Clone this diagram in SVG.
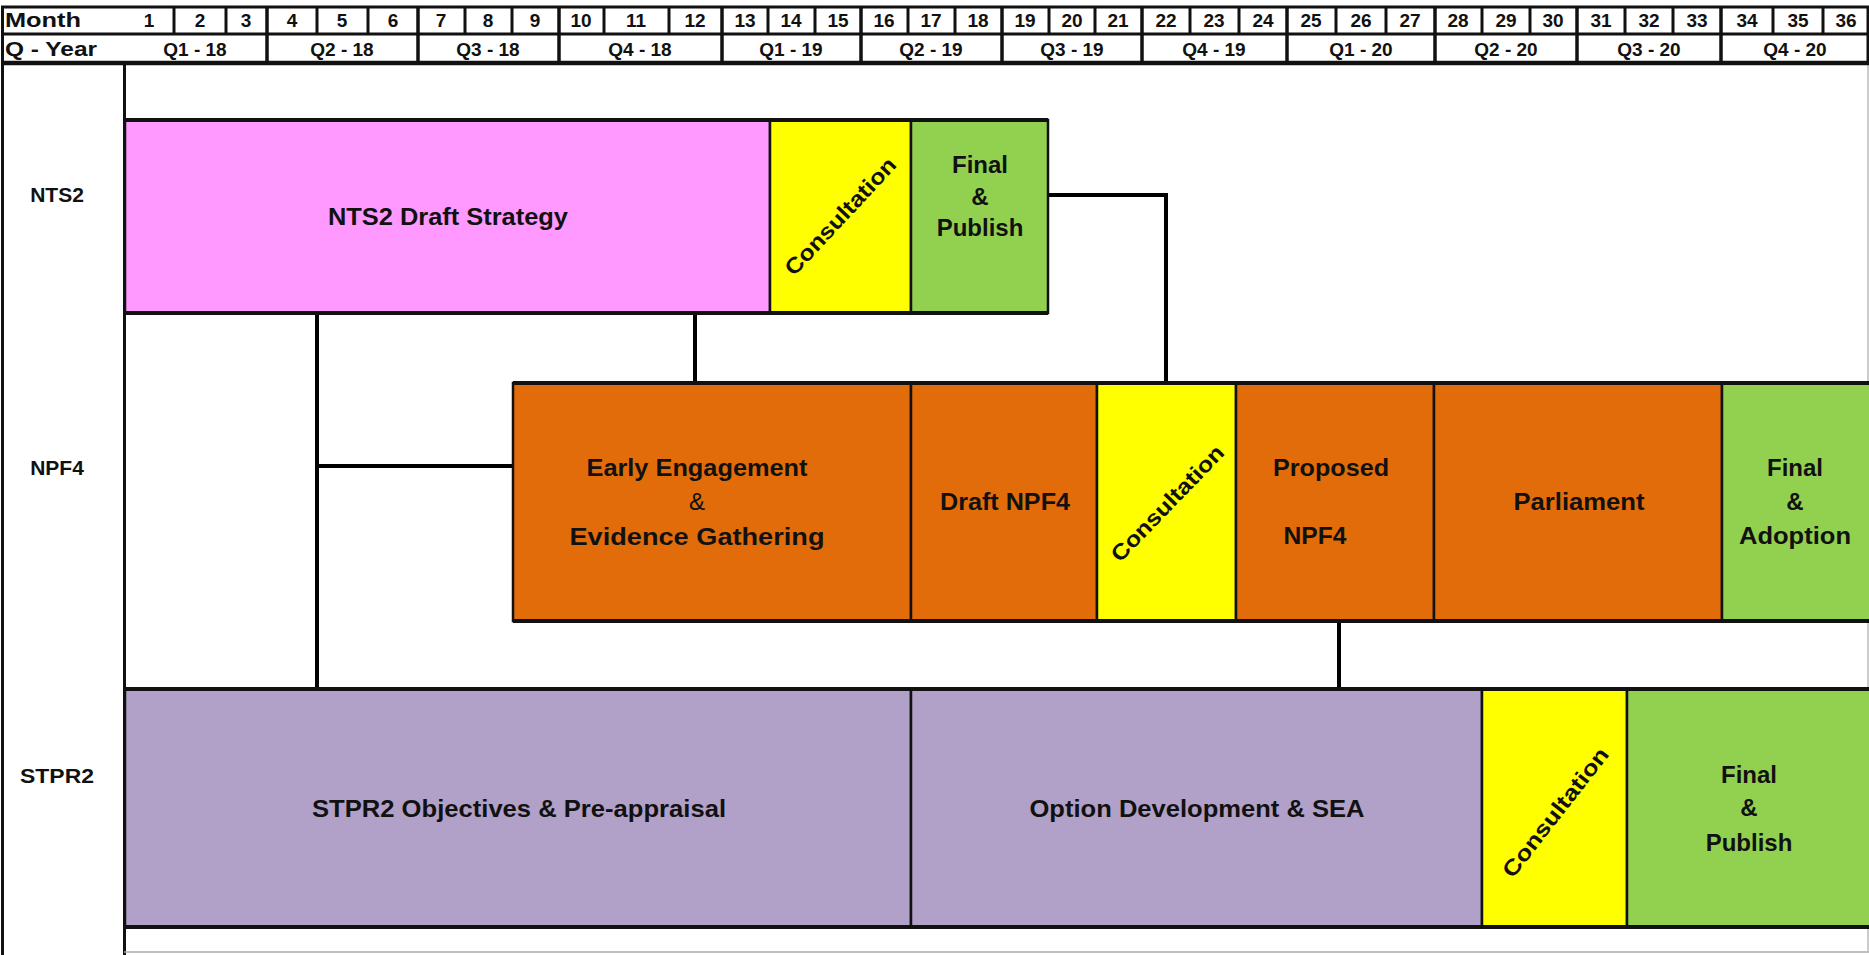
<svg xmlns="http://www.w3.org/2000/svg" width="1869" height="955" viewBox="0 0 1869 955">
<defs>
<style>
text{font-family:"Liberation Sans",Arial,sans-serif;font-weight:bold;fill:#111;}
.hd{font-size:19px;text-anchor:middle;}
.hl{font-size:20px;text-anchor:start;}
.rl{font-size:21px;text-anchor:middle;}
.bl{font-size:24px;text-anchor:middle;}
.cons{font-size:22px;text-anchor:middle;}
.reg{font-weight:normal;}
.seg{stroke:#111;stroke-width:2.5;}
.edge{stroke:#111;stroke-width:4;fill:none;}
.ms{stroke:#111;stroke-width:3;}
.qs{stroke:#111;stroke-width:3.5;}
.conn{stroke:#000;stroke-width:4;fill:none;stroke-linecap:square;}
.pink{fill:#FF99FF;}
.yel{fill:#FFFF00;}
.grn{fill:#92D050;}
.org{fill:#E36C0A;}
.pur{fill:#B1A0C7;}
</style>
</defs>
<rect x="0" y="0" width="1869" height="955" fill="#fff"/>

<g id="frame">
<line x1="2.5" y1="7" x2="2.5" y2="955" class="ms"/>
<line x1="124.5" y1="7" x2="124.5" y2="955" class="ms"/>
<line x1="124" y1="952" x2="1869" y2="952" stroke="#aaa" stroke-width="1.5"/>
<line x1="1868" y1="63" x2="1868" y2="952" stroke="#bbb" stroke-width="1.5"/>
</g>

<g id="header">
<rect x="2.5" y="7" width="1865.5" height="56" fill="#fff" stroke="#111" stroke-width="3"/>
<line x1="2" y1="34" x2="1869" y2="34" class="ms"/>
<line x1="2" y1="63" x2="1869" y2="63" stroke="#111" stroke-width="4.5"/>
<text x="5" y="27" class="hl" textLength="76" lengthAdjust="spacingAndGlyphs">Month</text>
<text x="5" y="56" class="hl" textLength="92" lengthAdjust="spacingAndGlyphs">Q - Year</text>
<g id="month-seps">
<line x1="174" y1="7" x2="174" y2="34" class="ms"/><line x1="226" y1="7" x2="226" y2="34" class="ms"/>
<line x1="317" y1="7" x2="317" y2="34" class="ms"/><line x1="368" y1="7" x2="368" y2="34" class="ms"/>
<line x1="465" y1="7" x2="465" y2="34" class="ms"/><line x1="512" y1="7" x2="512" y2="34" class="ms"/>
<line x1="604" y1="7" x2="604" y2="34" class="ms"/><line x1="669" y1="7" x2="669" y2="34" class="ms"/>
<line x1="768" y1="7" x2="768" y2="34" class="ms"/><line x1="815" y1="7" x2="815" y2="34" class="ms"/>
<line x1="908" y1="7" x2="908" y2="34" class="ms"/><line x1="955" y1="7" x2="955" y2="34" class="ms"/>
<line x1="1049" y1="7" x2="1049" y2="34" class="ms"/><line x1="1095" y1="7" x2="1095" y2="34" class="ms"/>
<line x1="1190" y1="7" x2="1190" y2="34" class="ms"/><line x1="1239" y1="7" x2="1239" y2="34" class="ms"/>
<line x1="1336" y1="7" x2="1336" y2="34" class="ms"/><line x1="1386" y1="7" x2="1386" y2="34" class="ms"/>
<line x1="1482" y1="7" x2="1482" y2="34" class="ms"/><line x1="1530" y1="7" x2="1530" y2="34" class="ms"/>
<line x1="1625" y1="7" x2="1625" y2="34" class="ms"/><line x1="1673" y1="7" x2="1673" y2="34" class="ms"/>
<line x1="1773" y1="7" x2="1773" y2="34" class="ms"/><line x1="1823" y1="7" x2="1823" y2="34" class="ms"/>
</g>
<g id="quarter-seps">
<line x1="267" y1="7" x2="267" y2="63" class="qs"/><line x1="418" y1="7" x2="418" y2="63" class="qs"/>
<line x1="559" y1="7" x2="559" y2="63" class="qs"/><line x1="722" y1="7" x2="722" y2="63" class="qs"/>
<line x1="861" y1="7" x2="861" y2="63" class="qs"/><line x1="1002" y1="7" x2="1002" y2="63" class="qs"/>
<line x1="1142" y1="7" x2="1142" y2="63" class="qs"/><line x1="1287" y1="7" x2="1287" y2="63" class="qs"/>
<line x1="1435" y1="7" x2="1435" y2="63" class="qs"/><line x1="1577" y1="7" x2="1577" y2="63" class="qs"/>
<line x1="1721" y1="7" x2="1721" y2="63" class="qs"/>
</g>
<g id="month-labels">
<text x="149" y="27" class="hd">1</text><text x="200" y="27" class="hd">2</text><text x="246" y="27" class="hd">3</text>
<text x="292" y="27" class="hd">4</text><text x="342" y="27" class="hd">5</text><text x="393" y="27" class="hd">6</text>
<text x="441" y="27" class="hd">7</text><text x="488" y="27" class="hd">8</text><text x="535" y="27" class="hd">9</text>
<text x="581" y="27" class="hd">10</text><text x="636" y="27" class="hd">11</text><text x="695" y="27" class="hd">12</text>
<text x="745" y="27" class="hd">13</text><text x="791" y="27" class="hd">14</text><text x="838" y="27" class="hd">15</text>
<text x="884" y="27" class="hd">16</text><text x="931" y="27" class="hd">17</text><text x="978" y="27" class="hd">18</text>
<text x="1025" y="27" class="hd">19</text><text x="1072" y="27" class="hd">20</text><text x="1118" y="27" class="hd">21</text>
<text x="1166" y="27" class="hd">22</text><text x="1214" y="27" class="hd">23</text><text x="1263" y="27" class="hd">24</text>
<text x="1311" y="27" class="hd">25</text><text x="1361" y="27" class="hd">26</text><text x="1410" y="27" class="hd">27</text>
<text x="1458" y="27" class="hd">28</text><text x="1506" y="27" class="hd">29</text><text x="1553" y="27" class="hd">30</text>
<text x="1601" y="27" class="hd">31</text><text x="1649" y="27" class="hd">32</text><text x="1697" y="27" class="hd">33</text>
<text x="1747" y="27" class="hd">34</text><text x="1798" y="27" class="hd">35</text><text x="1846" y="27" class="hd">36</text>
</g>
<g id="quarter-labels">
<text x="195" y="56" class="hd">Q1 - 18</text><text x="342" y="56" class="hd">Q2 - 18</text>
<text x="488" y="56" class="hd">Q3 - 18</text><text x="640" y="56" class="hd">Q4 - 18</text>
<text x="791" y="56" class="hd">Q1 - 19</text><text x="931" y="56" class="hd">Q2 - 19</text>
<text x="1072" y="56" class="hd">Q3 - 19</text><text x="1214" y="56" class="hd">Q4 - 19</text>
<text x="1361" y="56" class="hd">Q1 - 20</text><text x="1506" y="56" class="hd">Q2 - 20</text>
<text x="1649" y="56" class="hd">Q3 - 20</text><text x="1795" y="56" class="hd">Q4 - 20</text>
</g>
</g>

<g id="row-labels">
<text x="57" y="202" class="rl">NTS2</text>
<text x="57" y="475" class="rl">NPF4</text>
<text x="57" y="783" class="rl" textLength="74" lengthAdjust="spacingAndGlyphs">STPR2</text>
</g>

<g id="connectors">
<line x1="317" y1="313" x2="317" y2="689" class="conn"/>
<line x1="317" y1="466" x2="513" y2="466" class="conn"/>
<line x1="695" y1="313" x2="695" y2="383" class="conn"/>
<polyline points="1048,195 1166,195 1166,383" class="conn"/>
<line x1="1339" y1="621" x2="1339" y2="689" class="conn"/>
</g>

<g id="nts2-draft">
<rect x="125" y="120" width="645" height="193" class="pink seg"/>
<text x="448" y="225" class="bl" textLength="240" lengthAdjust="spacingAndGlyphs">NTS2 Draft Strategy</text>
</g>
<g id="nts2-consultation">
<rect x="770" y="120" width="141" height="193" class="yel seg"/>
<text x="840" y="224" class="cons" transform="rotate(-47 840 216)" textLength="152" lengthAdjust="spacingAndGlyphs">Consultation</text>
</g>
<g id="nts2-final">
<rect x="911" y="120" width="137" height="193" class="grn seg"/>
<text x="980" y="173" class="bl">Final</text>
<text x="980" y="205" class="bl">&amp;</text>
<text x="980" y="236" class="bl">Publish</text>
</g>
<path d="M125,120 H1048 M125,313 H1048" class="edge"/>

<g id="npf4-early">
<rect x="513" y="383" width="398" height="238" class="org seg"/>
<text x="697" y="476" class="bl" textLength="221" lengthAdjust="spacingAndGlyphs">Early Engagement</text>
<text x="697" y="510" class="bl reg">&amp;</text>
<text x="697" y="545" class="bl" textLength="255" lengthAdjust="spacingAndGlyphs">Evidence Gathering</text>
</g>
<g id="npf4-draft">
<rect x="911" y="383" width="186" height="238" class="org seg"/>
<text x="1005" y="510" class="bl" textLength="130" lengthAdjust="spacingAndGlyphs">Draft NPF4</text>
</g>
<g id="npf4-consultation">
<rect x="1097" y="383" width="139" height="238" class="yel seg"/>
<text x="1167" y="511" class="cons" transform="rotate(-46 1167 503)" textLength="152" lengthAdjust="spacingAndGlyphs">Consultation</text>
</g>
<g id="npf4-proposed">
<rect x="1236" y="383" width="198" height="238" class="org seg"/>
<text x="1331" y="476" class="bl" textLength="116" lengthAdjust="spacingAndGlyphs">Proposed</text>
<text x="1315" y="544" class="bl" textLength="63" lengthAdjust="spacingAndGlyphs">NPF4</text>
</g>
<g id="npf4-parliament">
<rect x="1434" y="383" width="288" height="238" class="org seg"/>
<text x="1579" y="510" class="bl" textLength="131" lengthAdjust="spacingAndGlyphs">Parliament</text>
</g>
<g id="npf4-final">
<rect x="1722" y="383" width="150" height="238" class="grn seg"/>
<text x="1795" y="476" class="bl">Final</text>
<text x="1795" y="510" class="bl">&amp;</text>
<text x="1795" y="544" class="bl" textLength="112" lengthAdjust="spacingAndGlyphs">Adoption</text>
</g>
<path d="M513,383 H1869 M513,621 H1869" class="edge"/>

<g id="stpr2-objectives">
<rect x="125" y="689" width="786" height="238" class="pur seg"/>
<text x="519" y="817" class="bl" textLength="414" lengthAdjust="spacingAndGlyphs">STPR2 Objectives &amp; Pre-appraisal</text>
</g>
<g id="stpr2-option">
<rect x="911" y="689" width="571" height="238" class="pur seg"/>
<text x="1197" y="817" class="bl" textLength="335" lengthAdjust="spacingAndGlyphs">Option Development &amp; SEA</text>
</g>
<g id="stpr2-consultation">
<rect x="1482" y="689" width="145" height="238" class="yel seg"/>
<text x="1555" y="820" class="cons" transform="rotate(-52 1555 812)" textLength="158" lengthAdjust="spacingAndGlyphs">Consultation</text>
</g>
<g id="stpr2-final">
<rect x="1627" y="689" width="245" height="238" class="grn seg"/>
<text x="1749" y="783" class="bl">Final</text>
<text x="1749" y="816" class="bl">&amp;</text>
<text x="1749" y="851" class="bl">Publish</text>
</g>
<path d="M125,689 H1869 M125,927 H1869" class="edge"/>
</svg>
